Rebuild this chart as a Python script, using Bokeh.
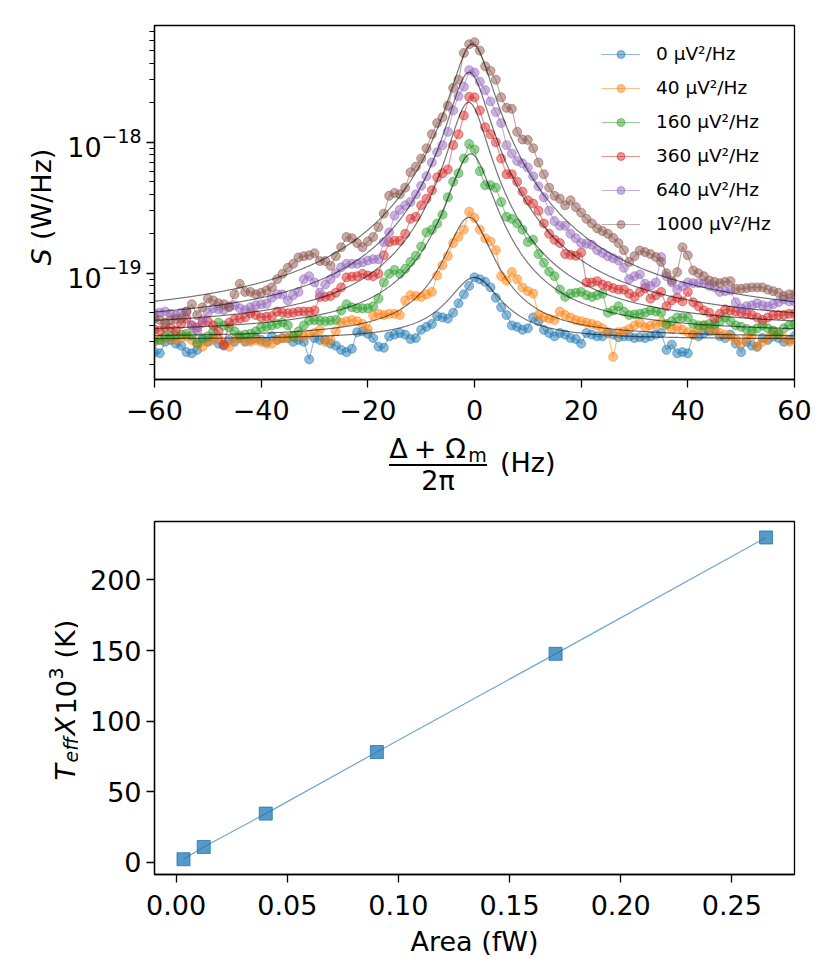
import numpy as np
from bokeh.plotting import figure
from bokeh.models import (Range1d, FixedTicker, CustomJSTickFormatter,
                          Legend, LegendItem, LogTickFormatter, Div)
from bokeh.core.properties import value
from bokeh.layouts import column, row
from bokeh.embed import file_html
from bokeh.resources import INLINE

# ---------------- data (top panel) ----------------
freq_hz = list(range(-60, 61))          # detuning (Hz)
# spectra in units of 1e-20 W/Hz
s_0 = [2.5, 2.45, 3.0, 3.1, 2.9, 2.8, 2.5, 2.45, 2.6, 3.1,
       3.0, 3.2, 2.9, 2.8, 3.1, 3.0, 3.2, 3.0, 3.1, 3.2,
       3.1, 3.0, 3.3, 3.1, 3.2, 3.2, 3.0, 3.1, 3.0, 2.2,
       3.2, 3.1, 3.1, 2.9, 2.8, 2.6, 2.5, 2.65, 3.55, 3.6,
       3.45, 3.2, 2.75, 2.7, 3.3, 3.4, 3.5, 3.4, 3.15, 3.2,
       3.7, 3.9, 4.1, 4.7, 4.6, 4.5, 5.0, 5.9, 6.9, 8.0,
       9.3, 9.0, 8.6, 7.8, 6.5, 5.5, 4.8, 4.0, 3.9, 3.7,
       3.8, 4.6, 4.3, 3.7, 3.5, 3.3, 3.5, 3.4, 3.2, 3.15,
       2.9, 3.5, 3.4, 3.3, 3.3, 3.5, 3.4, 3.25, 3.3, 3.3,
       3.2, 3.25, 3.2, 3.3, 3.4, 3.5, 2.6, 2.85, 2.45, 2.5,
       2.45, 3.4, 3.3, 3.5, 3.6, 3.75, 3.3, 3.2, 3.4, 2.9,
       2.5, 3.0, 2.8, 2.75, 3.2, 3.1, 3.3, 3.2, 3.0, 3.1, 3.3]
s_40 = [3.1, 3.1, 3.2, 3.2, 3.1, 3.2, 3.3, 3.1, 2.9, 2.75,
        3.0, 3.1, 3.2, 2.9, 2.75, 3.1, 3.2, 3.05, 3.0, 3.1,
        3.0, 2.9, 2.9, 3.1, 3.2, 3.2, 3.3, 3.35, 3.3, 3.4,
        3.5, 3.7, 3.0, 3.1, 3.6, 4.2, 4.3, 4.4, 4.3, 4.1,
        3.75, 4.75, 4.9, 4.8, 4.9, 4.9, 4.8, 6.2, 6.8, 6.7,
        6.6, 6.9, 7.2, 9.6, 11.5, 13.5, 17, 19, 21.5, 29.5,
        26.5, 21.5, 18.5, 17.5, 15, 9.5, 8.8, 10.2, 9.0, 7.8,
        7.3, 7.0, 4.8, 4.6, 4.5, 4.4, 5.1, 4.8, 4.6, 4.4,
        4.3, 4.2, 4.1, 4.0, 3.8, 3.55, 2.3, 3.55, 3.6, 3.75,
        4.0, 4.2, 3.85, 4.0, 4.05, 4.2, 4.0, 3.75, 3.9, 3.7,
        3.55, 3.4, 3.7, 4.0, 3.8, 3.6, 3.5, 3.4, 3.3, 3.1,
        2.9, 3.2, 3.3, 2.75, 3.0, 3.2, 3.55, 3.4, 3.2, 3.0, 3.1]
s_160 = [3.0, 3.1, 3.3, 3.3, 3.35, 3.4, 3.45, 3.35, 2.9, 3.2,
         3.3, 3.6, 4.2, 4.0, 3.85, 3.6, 3.35, 3.4, 3.45, 3.6,
         3.85, 3.9, 4.0, 4.1, 4.2, 4.0, 3.3, 3.6, 4.0, 4.35,
         4.4, 4.35, 4.3, 4.35, 4.4, 5.2, 5.8, 5.5, 5.4, 5.4,
         5.4, 5.6, 6.4, 8.5, 9.9, 10.6, 9.9, 10.8, 12.2, 13.6,
         16, 20.5, 21.5, 24, 28, 38, 50, 58, 75, 97,
         88, 60, 47, 47, 45, 35, 27, 26, 24, 21.5,
         17.3, 18, 14, 12, 10.3, 9.5, 7.5, 6.6, 7.0, 7.1,
         7.2, 6.8, 6.6, 6.8, 7.0, 5.0, 5.2, 5.6, 5.1, 4.8,
         4.85, 4.9, 5.0, 5.2, 5.1, 5.0, 4.1, 4.3, 4.6, 4.6,
         4.6, 4.1, 4.0, 4.0, 4.1, 4.1, 4.3, 4.6, 4.3, 4.0,
         3.9, 3.75, 3.65, 3.8, 4.0, 3.8, 3.65, 3.45, 3.8, 4.0, 4.1]
s_360 = [3.7, 3.65, 3.85, 3.85, 3.65, 4.1, 4.5, 4.0, 3.85, 4.2,
         4.3, 4.0, 3.6, 2.85, 4.2, 4.45, 4.5, 4.6, 4.95, 4.8,
         4.6, 4.65, 4.7, 5.1, 5.0, 4.95, 5.0, 5.1, 5.1, 5.1,
         5.2, 6.6, 6.6, 6.7, 7.1, 7.8, 9.3, 9.4, 9.5, 9.9,
         9.6, 9.5, 9.9, 13.7, 17.3, 17.7, 17.7, 20, 26, 27,
         33, 37, 43, 54, 58, 62, 95, 115, 160, 222,
         220, 175, 130, 115, 100, 75, 57, 57, 50, 42,
         36, 34, 30, 24, 20, 18, 17, 14, 13.8, 13.6,
         14.4, 8.5, 8.5, 8.7, 8.2, 8.0, 7.7, 7.5, 7.5, 7.0,
         6.6, 7.2, 7.7, 6.4, 6.8, 7.2, 5.6, 6.2, 6.5, 6.1,
         7.2, 6.0, 5.6, 5.2, 5.0, 4.5, 4.9, 5.3, 5.2, 5.1,
         5.0, 4.9, 4.8, 4.6, 4.4, 4.6, 4.8, 4.8, 4.8, 4.9, 4.9]
s_640 = [4.9, 5.0, 5.1, 4.9, 4.75, 5.0, 5.1, 4.0, 3.65, 4.4,
         5.0, 5.4, 5.3, 5.25, 5.6, 5.7, 5.4, 5.25, 5.5, 5.7,
         5.8, 5.85, 6.5, 6.9, 6.9, 6.2, 6.8, 7.2, 9.0, 9.5,
         8.5, 7.1, 8.2, 9.0, 10, 11.1, 11.8, 11.8, 11.8, 12.1,
         12.5, 12.8, 12.8, 17.3, 20.5, 27.5, 30.5, 33, 35, 40,
         46.5, 55, 70, 84, 95, 120, 175, 225, 265, 355,
         340, 290, 250, 205, 170, 140, 95, 82, 72, 69,
         64, 55, 46, 38, 30, 25, 23, 23, 20, 18.5,
         17, 16.8, 16.5, 15, 14.3, 13.5, 13, 12.5, 11, 9.0,
         9.5, 9.8, 8.3, 8.0, 8.5, 13.3, 9.5, 8.5, 7.5, 8.0,
         8.5, 8.4, 8.4, 8.4, 8.0, 7.8, 7.2, 7.3, 7.4, 6.0,
         5.4, 5.6, 5.7, 5.9, 5.7, 5.6, 5.8, 6.0, 6.3, 6.1, 6.1]
s_1000 = [4.5, 4.4, 4.2, 4.4, 4.45, 4.5, 5.1, 5.8, 4.8, 5.5,
          6.4, 6.2, 5.9, 5.8, 5.5, 6.9, 8.3, 7.2, 7.2, 6.9,
          7.1, 7.4, 7.8, 9.0, 9.9, 11.0, 11.8, 13.2, 13.5, 13.7,
          14.2, 12.4, 12.4, 11.4, 13.5, 15.8, 18.9, 18.5, 17, 15.8,
          17.5, 18.9, 22.5, 28.5, 39, 41, 40, 45, 59, 65,
          75, 90, 115, 140, 155, 190, 260, 300, 480, 560,
          580, 500, 380, 350, 300, 220, 183, 180, 120, 105,
          104, 90, 70, 57, 45, 39, 37, 33, 36, 32,
          29, 26, 24, 22, 21, 20, 18.6, 17, 15, 12.2,
          13.5, 14.9, 14.5, 14, 13.3, 12.2, 10, 8.8, 10.2, 15.8,
          13.7, 10.5, 10, 9.5, 8.8, 8.6, 8.4, 8.6, 8.7, 7.6,
          7.6, 7.7, 7.8, 7.8, 7.8, 7.5, 7.3, 7.1, 6.7, 6.9, 6.9]
series = [s_0, s_40, s_160, s_360, s_640, s_1000]
levels = ["0", "40", "160", "360", "640", "1000"]

# Lorentzian fit parameters, units 1e-20 W/Hz and Hz
fit_center = [0.0, -1.0, -0.7, -1.1, -1.0, -0.4]
fit_hwhm = [5.0, 4.0, 3.75, 3.3, 3.4, 3.5]
fit_amp = [6.17, 23.5, 78.0, 198.0, 338.0, 556.0]
fit_bg = [3.13, 3.24, 3.48, 3.75, 3.95, 4.2]

# ---------------- data (bottom panel) ----------------
area_fw = [0.0033, 0.0124, 0.0403, 0.0903, 0.1707, 0.2654]
teff_k1e3 = [2.3, 11.0, 34.6, 78.2, 147.7, 230.1]

colors = ["#1f77b4", "#ff7f0e", "#2ca02c", "#d62728", "#9467bd", "#8c564b"]
UNIT = 1e-20
FONT = "DejaVu Sans"
TICK_FS = "27px"


def style_axes(p):
    p.xgrid.visible = False
    p.ygrid.visible = False
    p.outline_line_color = "black"
    p.outline_line_width = 1.3
    p.background_fill_color = "white"
    p.border_fill_color = "white"
    for ax in (p.xaxis[0], p.yaxis[0]):
        ax.axis_line_color = "black"
        ax.axis_line_width = 1.3
        ax.major_tick_line_color = "black"
        ax.major_tick_line_width = 1.3
        ax.major_tick_out = 8
        ax.major_tick_in = 0
        ax.minor_tick_line_color = "black"
        ax.minor_tick_line_width = 1.0
        ax.minor_tick_out = 5
        ax.minor_tick_in = 0
        ax.major_label_text_font = FONT
        ax.major_label_text_font_size = TICK_FS
        ax.major_label_text_color = "black"
        ax.axis_label_text_font = FONT
        ax.axis_label_text_font_size = "27px"
        ax.axis_label_text_font_style = "normal"
        ax.axis_label_text_color = "black"
    p.xaxis[0].major_label_standoff = 12
    p.yaxis[0].major_label_standoff = 5


def label_fig(w, h, y0, y1):
    # y0..y1: the part of the canvas (measured from its bottom) that becomes the frame
    f = figure(width=w, height=h, x_range=Range1d(0, w), y_range=Range1d(y0, y1),
               title=None, output_backend="svg", toolbar_location=None,
               x_axis_location=None, y_axis_location=None,
               min_border=0, min_border_left=0, min_border_right=0,
               min_border_top=0, min_border_bottom=0, outline_line_color=None)
    f.grid.visible = False
    f.background_fill_color = "white"
    f.border_fill_color = "white"
    return f


def put_text(f, x, y, txt, size="27px", style="normal", align="left", angle=0.0):
    f.text(x=[x], y=[y], text=[txt], angle=angle, text_font=value(FONT),
           text_font_size=value(size), text_font_style=style, text_align=align,
           text_baseline="alphabetic", text_color="black")


# ================= top figure =================
p1 = figure(width=766, height=435, x_range=Range1d(-60, 60),
            y_range=Range1d(1.545e-20, 7.78e-18), y_axis_type="log",
            output_backend="svg", toolbar_location=None,
            min_border_left=98, min_border_right=28, min_border_top=25,
            min_border_bottom=56)
style_axes(p1)
p1.xaxis.ticker = FixedTicker(ticks=[-60, -40, -20, 0, 20, 40, 60], minor_ticks=[])
p1.xaxis.formatter = CustomJSTickFormatter(
    code="return tick < 0 ? '\u2212' + Math.abs(tick) : String(tick);")
p1.yaxis.ticker = FixedTicker(
    ticks=[1e-19, 1e-18],
    minor_ticks=[k * 1e-20 for k in range(2, 10)] + [k * 1e-19 for k in range(2, 10)]
    + [k * 1e-18 for k in range(2, 8)])
p1.yaxis.formatter = LogTickFormatter()

items = []
xfit = np.linspace(-60, 60, 961)
for vals, lev, col in zip(series, levels, colors):
    yv = [v * UNIT for v in vals]
    lr = p1.line(freq_hz, yv, line_color=col, line_alpha=0.5, line_width=1.2)
    sr = p1.scatter(freq_hz, yv, size=9, marker="circle", fill_color=col,
                    fill_alpha=0.5, line_color=col, line_alpha=0.5, line_width=1)
    items.append(LegendItem(label=lev + " \u03bcV\u00b2/Hz", renderers=[lr, sr]))

for x0, g, a, b in zip(fit_center, fit_hwhm, fit_amp, fit_bg):
    yfit = (b + a / (1.0 + ((xfit - x0) / g) ** 2)) * UNIT
    p1.line(xfit, yfit, line_color="black", line_alpha=0.55, line_width=1.2)

legend = Legend(items=items, location=(447, 145), border_line_alpha=0,
                background_fill_alpha=0, label_text_font=FONT,
                label_text_font_size="18.5px", label_text_color="black",
                glyph_width=39, glyph_height=20, label_height=20,
                spacing=13, padding=0, margin=0, label_standoff=16)
p1.add_layout(legend)

# y label of the top panel:  S (W/Hz)   (frame shares rows 25..379 of the page)
H1 = 435
yl1 = label_fig(56, H1, H1 - 379, H1 - 25)
put_text(yl1, 40.5, H1 - 265, "S", style="italic", angle=np.pi / 2)
put_text(yl1, 40.5, H1 - 239.5, "(W/Hz)", angle=np.pi / 2)

# x label of the top panel:  (Δ + Ω_m) / 2π  (Hz)  -- HTML block below the axis
def span(txt, left, top, size=27, width=None, center=False):
    w = f"width:{width}px;text-align:center;" if center else "white-space:nowrap;"
    return (f'<span style="position:absolute;left:{left}px;top:{top}px;{w}'
            f'font-family:\'DejaVu Sans\';font-size:{size}px;line-height:{size}px;'
            f'color:black;">{txt}</span>')

frac_html = (
    '<div style="position:relative;width:822px;height:60px;margin:0;padding:0;">'
    + span("\u0394", 398.5 - 20, 0.4, width=40, center=True)
    + span("+", 425 - 20, 0.4, width=40, center=True)
    + span("\u03a9", 455.5 - 20, 0.4, width=40, center=True)
    + span("m", 477.5 - 15, 11.4, size=19, width=30, center=True)
    + '<div style="position:absolute;left:389px;top:29.4px;width:98px;height:1.3px;'
      'background:black;"></div>'
    + span("2\u03c0", 438 - 30, 32.1, width=60, center=True)
    + span("(Hz)", 500, 13.6)
    + '</div>'
)
xl1 = Div(text=frac_html, width=822, height=60, margin=(0, 0, 0, 0))

# ================= bottom figure =================
p2 = figure(width=744, height=475, x_range=Range1d(-0.00975, 0.2782),
            y_range=Range1d(-8.5, 241.4), output_backend="svg",
            toolbar_location=None, min_border_left=76, min_border_right=28,
            min_border_top=26, min_border_bottom=96)
style_axes(p2)
p2.xaxis.ticker = FixedTicker(ticks=[0, 0.05, 0.10, 0.15, 0.20, 0.25], minor_ticks=[])
p2.xaxis.formatter = CustomJSTickFormatter(code="return tick.toFixed(2);")
p2.yaxis.ticker = FixedTicker(ticks=[0, 50, 100, 150, 200], minor_ticks=[])
p2.xaxis.axis_label = "Area (fW)"
p2.xaxis.axis_label_standoff = 8

p2.line(area_fw, teff_k1e3, line_color="#1f77b4", line_alpha=0.65, line_width=1.2)
p2.scatter(area_fw, teff_k1e3, marker="square", size=13, fill_color="#1f77b4",
           fill_alpha=0.75, line_color="#1f77b4", line_alpha=0.8, line_width=1)

# y label of the bottom panel:  T_eff X10^3 (K)   (frame shares rows 521..874)
B2 = 970
yl2 = label_fig(78, 475, B2 - 874, B2 - 521)
put_text(yl2, 65, B2 - 780, "T", style="italic", angle=np.pi / 2)
put_text(yl2, 70, B2 - 762, "eff", size="19px", style="italic", angle=np.pi / 2)
put_text(yl2, 65, B2 - 735, "X", style="italic", angle=np.pi / 2)
put_text(yl2, 65, B2 - 714, "10", angle=np.pi / 2)
put_text(yl2, 55, B2 - 679, "3", size="19px", angle=np.pi / 2)
put_text(yl2, 65, B2 - 658, "(K)", angle=np.pi / 2)

layout = column(row(yl1, p1), xl1, row(yl2, p2))
open("out.html", "w").write(file_html(layout, INLINE))
